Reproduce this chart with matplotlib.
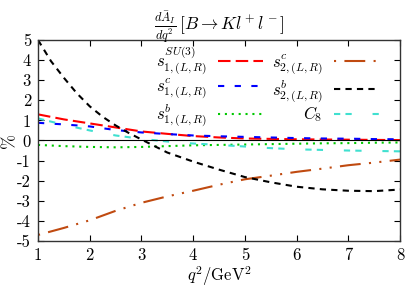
import numpy as np
from matplotlib import pyplot as plt

plt.rcParams['font.family'] = 'serif'
plt.rcParams['font.serif'] = ['cmr10', 'DejaVu Serif']
plt.rcParams['mathtext.fontset'] = 'cm'
plt.rcParams['axes.unicode_minus'] = False

q2 = [1, 1.5, 2, 2.5, 3, 3.5, 4, 4.5, 5, 5.5, 6, 6.5, 7, 7.5, 8]
s1_su3 = [1.3, 1.05, 0.85, 0.65, 0.45, 0.33, 0.22, 0.15, 0.1, 0.08, 0.06, 0.05, 0.04, 0.03, 0.02]
s1_c = [0.88, 0.8, 0.7, 0.52, 0.4, 0.32, 0.25, 0.21, 0.18, 0.15, 0.12, 0.1, 0.09, 0.07, 0.06]
s1_b = [-0.22, -0.28, -0.32, -0.34, -0.32, -0.28, -0.24, -0.22, -0.2, -0.18, -0.16, -0.14, -0.13, -0.11, -0.1]
s2_c = [-4.7, -4.35, -3.97, -3.5, -3.1, -2.78, -2.5, -2.2, -1.93, -1.75, -1.56, -1.4, -1.23, -1.1, -0.95]
c8 = [1.1, 0.78, 0.5, 0.25, 0.08, -0.05, -0.15, -0.22, -0.3, -0.38, -0.44, -0.47, -0.5, -0.52, -0.54]

q2_b = [1, 1.25, 1.5, 1.75, 2, 2.25, 2.5, 2.75, 3, 3.5, 4, 4.5, 5, 5.5, 6, 6.5, 7, 7.5, 8]
s2_b = [5.0, 3.95, 3.12, 2.35, 1.7, 1.18, 0.75, 0.38, 0.05, -0.6, -1.05, -1.45, -1.82,
        -2.08, -2.3, -2.43, -2.5, -2.52, -2.44]

fig = plt.figure(figsize=(4.07, 2.93), dpi=100)
ax = fig.add_axes([0.0934, 0.1775, 0.8896, 0.686])

lw = 1.5
ax.plot(q2, s1_su3, color='#ff0000', lw=lw, dashes=(6, 2.5),
        label=r'$s^{SU(3)}_{1,(L,R)}$')
ax.plot(q2, s1_c, color='#0000ff', lw=lw, dashes=(3, 5),
        label=r'$s^{c}_{1,(L,R)}$')
ax.plot(q2, s1_b, color='#00c800', lw=lw, dashes=(1, 2.3),
        label=r'$s^{b}_{1,(L,R)}$')
ax.plot(q2, s2_c, color='#c04a10', lw=lw, dashes=(1, 4, 10, 4, 1, 4),
        label=r'$s^{c}_{2,(L,R)}$')
ax.plot(q2_b, s2_b, color='black', lw=lw, dashes=(3, 2.5),
        label=r'$s^{b}_{2,(L,R)}$')
ax.plot(q2, c8, color='#40e0d0', lw=lw, dashes=(3, 2.5, 3, 10),
        label=r'$C_8$')

ax.axhline(0, color='black', lw=0.8)

ax.set_xlim(1, 8)
ax.set_ylim(-5, 5)
ax.set_xticks(range(1, 9))
ax.set_yticks(range(-5, 6))
ax.set_yticklabels([str(v) for v in range(-5, 6)])
ax.tick_params(direction='in', top=True, right=True, labelsize=12, length=4, pad=5)
for sp in ax.spines.values():
    sp.set_linewidth(1.0)
    sp.set_color('#333333')

ax.set_xlabel(r'$q^2/\mathrm{GeV}^2$', fontsize=12, labelpad=1)
ax.set_ylabel('%', fontsize=13, labelpad=0)
ax.set_title(r'$\frac{d\bar{A}_I}{dq^2}\,[B\to K l^+ l^-]$', fontsize=12.5, pad=7)

ax.legend(ncol=2, loc='upper right', bbox_to_anchor=(0.947, 0.985), frameon=False,
          markerfirst=False, fontsize=12, handlelength=2.7, columnspacing=0.5,
          labelspacing=0.0, handletextpad=0.7, borderaxespad=0.0, borderpad=0.1)

fig.savefig('out.png', dpi=100)
